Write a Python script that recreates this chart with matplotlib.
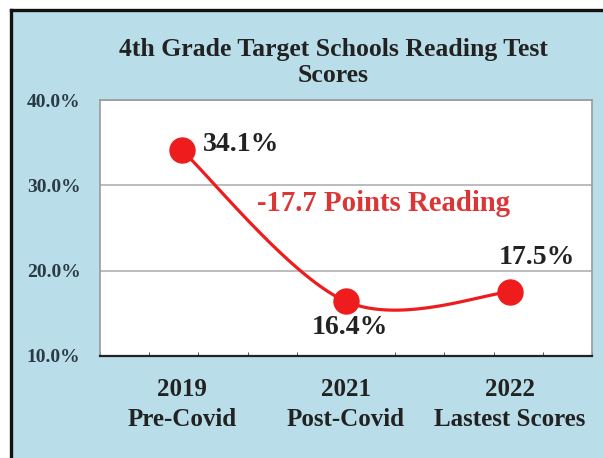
import numpy as np
import matplotlib.pyplot as plt
from matplotlib.patches import Rectangle
from matplotlib.lines import Line2D
from matplotlib.ticker import FixedLocator, FuncFormatter

#######################################
# DATA

categories = ["2019\nPre-Covid", "2021\nPost-Covid", "2022\nLastest Scores"]
scores = [34.1, 16.4, 17.5]
score_labels = ["34.1%", "16.4%", "17.5%"]
y_ticks = [10, 20, 30, 40]

#######################################
# FIGURE

plt.rcParams['font.family'] = ['Liberation Serif', 'DejaVu Serif']
plt.rcParams['font.weight'] = 'bold'

fig = plt.figure(figsize=(6.03, 4.58), dpi=100, facecolor='white')

# blue panel and black frame lines
W, H = 603, 458
fig.patches.append(Rectangle((12 / W, 0), 1, 1 - 11 / H, transform=fig.transFigure,
                             facecolor='#b9dde9', edgecolor='none', zorder=-10))
fig.lines.append(Line2D([11 / W, 1], [1 - 9.5 / H, 1 - 9.5 / H], transform=fig.transFigure,
                        color='#111111', linewidth=2.4, zorder=-5))
fig.lines.append(Line2D([11 / W, 11 / W], [0, 1 - 9.5 / H], transform=fig.transFigure,
                        color='#111111', linewidth=2.4, zorder=-5))

ax = fig.add_axes([100 / W, 1 - 356 / H, 492 / W, 256 / H])
ax.set_zorder(1)
ax.set_facecolor('white')
ax.set_xlim(-0.5, 2.5)
ax.set_ylim(10, 40)

x = np.arange(len(scores))

# smoothed line (bezier through the points, in screen space)
pts = ax.transData.transform(np.column_stack([x, scores]))
curve = []
t = np.linspace(0, 1, 60)[:, None]
for i in range(len(pts) - 1):
    p0 = pts[max(i - 1, 0)]
    p1 = pts[i]
    p2 = pts[i + 1]
    p3 = pts[min(i + 2, len(pts) - 1)]
    c1 = p1 + (p2 - p0) / 6
    c2 = p2 - (p3 - p1) / 6
    seg = (1 - t) ** 3 * p1 + 3 * (1 - t) ** 2 * t * c1 + 3 * (1 - t) * t ** 2 * c2 + t ** 3 * p2
    curve.append(seg)
curve = ax.transData.inverted().transform(np.vstack(curve))
ax.plot(curve[:, 0], curve[:, 1], color='#ee1c1c', linewidth=2.3, zorder=3)
ax.plot(x, scores, 'o', color='#ee1c1c', markersize=18, zorder=4)

# data labels
offsets = [(15, 4.5, 'left'), (3, -19, 'center'), (19.5, 24.5, 'center')]
for xi, yi, lab, (dx, dy, ha) in zip(x, scores, score_labels, offsets):
    ax.annotate(lab, (xi, yi), xytext=(dx, dy), textcoords='offset points',
                ha=ha, va='center', fontsize=20, color='#222222', fontweight='bold')

ax.text(0.457, 27.9, "-17.7 Points Reading", ha='left', va='center',
        fontsize=20.7, color='#dc3535', fontweight='bold')

fig.text(333 / W, 1 - 62.5 / H, "4th Grade Target Schools Reading Test\nScores", ha='center',
         va='center', fontsize=18.5, color='#222222', fontweight='bold', linespacing=1.2)

# axes styling
ax.yaxis.set_major_locator(FixedLocator(y_ticks))
ax.yaxis.set_major_formatter(FuncFormatter(lambda v, p: f"{v:.1f}%"))
ax.grid(axis='y', color='#b0b0b0', linewidth=1.2)
ax.set_axisbelow(True)
ax.tick_params(axis='y', length=0, pad=14, labelsize=14, labelcolor='#2a3a45')

ax.set_xticks(x)
ax.set_xticklabels(categories, fontsize=18, color='#222222', linespacing=1.38)
ax.xaxis.set_minor_locator(FixedLocator(np.linspace(-0.5, 2.5, 11)))
ax.tick_params(axis='x', which='major', length=0, pad=16)
ax.tick_params(axis='x', which='minor', length=3, direction='in', color='#333333')

for side in ['top', 'left', 'right']:
    ax.spines[side].set_color('#9a9a9a')
    ax.spines[side].set_linewidth(1.2)
ax.spines['bottom'].set_color('#222222')
ax.spines['bottom'].set_linewidth(1.6)

fig.savefig("out.png", dpi=100, facecolor='white')
